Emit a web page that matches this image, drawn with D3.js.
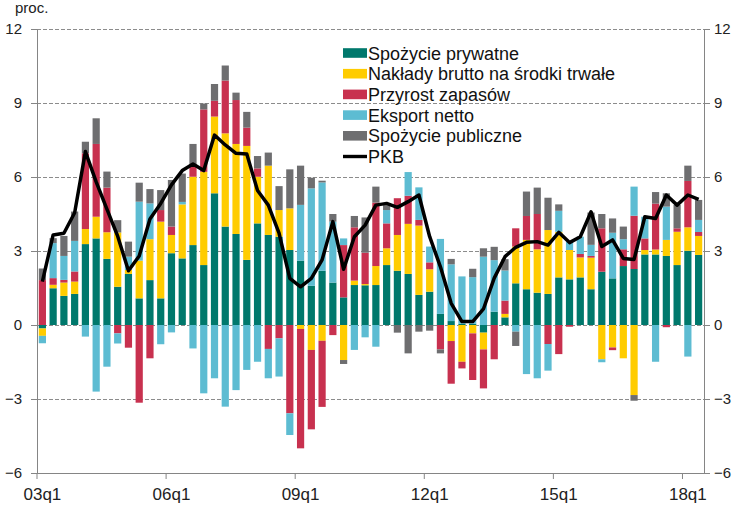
<!DOCTYPE html>
<html><head><meta charset="utf-8">
<script src="https://cdn.jsdelivr.net/npm/d3@7"></script>
<style>body{margin:0;background:#fff}svg{display:block;font-family:"Liberation Sans",Arial,sans-serif}</style>
</head><body><svg id="c" width="743" height="508"></svg>
<script>
const quarters = ["03q1","03q2","03q3","03q4","04q1","04q2","04q3","04q4","05q1","05q2","05q3","05q4",
"06q1","06q2","06q3","06q4","07q1","07q2","07q3","07q4","08q1","08q2","08q3","08q4",
"09q1","09q2","09q3","09q4","10q1","10q2","10q3","10q4","11q1","11q2","11q3","11q4",
"12q1","12q2","12q3","12q4","13q1","13q2","13q3","13q4","14q1","14q2","14q3","14q4",
"15q1","15q2","15q3","15q4","16q1","16q2","16q3","16q4","17q1","17q2","17q3","17q4",
"18q1","18q2"];
const xTickLabels = ["03q1","06q1","09q1","12q1","15q1","18q1"];
const yTicks = [-6,-3,0,3,6,9,12];
const seriesNames = ["Spożycie prywatne","Nakłady brutto na środki trwałe","Przyrost zapasów","Eksport netto","Spożycie publiczne"];
const lineName = "PKB";

const privCons = [-0.14,1.49,1.18,1.26,3.28,3.51,2.68,1.55,2.07,1.08,
 1.82,1.08,2.91,2.70,3.24,2.43,5.34,3.99,3.69,2.64,
 4.12,3.65,3.58,3.04,2.61,1.59,2.20,1.72,1.12,1.62,
 1.61,1.62,2.43,2.20,2.07,1.22,1.35,0.45,0.16,0.05,
 0.05,-0.31,0.54,0.31,1.69,1.45,1.31,1.26,1.93,1.85,
 1.93,1.45,2.16,1.89,2.39,2.27,2.86,2.86,2.80,2.43,
 3.01,2.84];
const investment = [-0.30,0.14,0.54,0.50,0.61,0.88,1.08,2.20,0.16,1.53,
 1.66,3.11,0.74,2.19,2.77,3.78,3.11,3.78,3.65,4.62,
 1.89,2.81,1.08,1.69,-0.16,-1.01,-0.64,0,-1.42,0.18,
 0.05,0.77,0.68,1.45,2.03,2.81,0.91,0,-0.65,-1.49,
 -0.34,-0.68,0,0.14,1.49,2.00,1.76,2.59,1.85,1.19,
 0.81,1.28,-1.39,-0.91,-1.35,-2.84,0.18,0.20,0.65,1.35,
 0.95,0.77];
const inventories = [1.82,0.27,0.11,0.41,3.07,2.95,1.81,-0.34,-0.92,-3.15,
 -1.35,0.47,0.34,0,0.41,2.53,0.64,2.14,1.78,0.74,
 0.34,-0.97,-0.54,-3.58,-4.84,-3.22,-2.68,-0.41,2.12,2.16,
 1.27,2.57,1.01,1.49,1.14,0.23,0.28,-0.99,-1.73,-0.27,
 -1.89,-1.58,-1.39,0.54,0.74,0.97,1.43,-0.77,-1.18,-0.07,
 0.14,0.07,1.76,-0.11,0.68,2.16,0.47,1.86,-0.09,0.14,
 1.88,0.16];
const netExports = [-0.30,1.42,0.97,1.24,-0.47,-2.70,-1.69,-0.41,0.54,2.39,
 1.45,-0.78,-0.30,0.10,-0.95,-2.77,-2.16,-3.31,-2.64,-1.82,
 -1.49,-1.19,-1.55,-0.88,2.26,3.95,3.58,2.47,0.27,-1.01,
 -0.50,-0.88,0.54,0,0.96,1.32,0.64,3.04,2.30,1.92,
 1.89,2.77,2.09,1.22,-0.27,-1.99,-2.16,-1.08,0.85,0.34,
 0.70,0.45,-0.12,1.85,0.41,1.18,0.88,-1.49,1.35,0,
 -1.28,0.49];
const publicCons = [0.47,0.20,0.81,1.19,0.47,1.04,0.65,0.50,0.61,0.77,
 0.58,0.81,1.89,1.15,0.92,0.24,0.68,0.61,0.30,0.64,
 0.50,0.53,0.97,1.58,1.59,0.43,0.07,0.31,-0.16,0.46,
 1.43,0.65,0.20,-0.31,-1.15,-0.27,-0.23,-0.16,0.22,0,
 0.34,0.34,0.54,0.46,-0.58,0.99,1.07,1.31,0.26,0,
 0,1.31,0.58,0.58,0.51,-0.23,0,0.47,0.54,0.95,
 0.62,0.81];
const gdp = [1.76,3.65,3.72,4.55,7.03,5.8,4.7,3.6,2.2,2.8,
 4.3,4.93,5.68,6.26,6.53,6.26,7.7,7.3,6.96,6.93,
 5.45,4.86,3.72,1.89,1.55,1.89,2.64,4.19,2.26,3.58,
 4.05,4.86,4.93,4.77,5.0,5.27,3.58,2.36,0.88,0.14,
 0.14,0.65,1.9,2.77,3.15,3.35,3.38,3.24,3.76,3.34,
 3.58,4.59,3.18,3.45,2.7,2.66,4.39,4.32,5.27,4.86,
 5.27,5.09];

const colors = ["#00786C","#FFCC00","#C8314F","#5DBCD2","#6E6E70"];
const seriesData = [privCons, investment, inventories, netExports, publicCons];

const svg = d3.select("#c");
svg.append("rect").attr("width",743).attr("height",508).attr("fill","#fff");
const L = 37, R = 704, T = 29, B = 473;

const x = d3.scaleBand().domain(quarters).range([L, R]).paddingInner(0.33).paddingOuter(0.165);
const y = d3.scaleLinear().domain([-6, 12]).range([B, T]);

// grid
const grid = svg.append("g").attr("transform", `translate(${L},0)`)
  .call(d3.axisLeft(y).tickValues(yTicks.filter(v => v > -6)).tickSize(-(R - L)).tickFormat(""));
grid.select(".domain").remove();
grid.selectAll("line").attr("stroke","#8c8c8c").attr("stroke-dasharray","4,2").attr("stroke-width",1);

// stacked bars
const rows = quarters.map((q, i) => {
  const o = {q};
  seriesNames.forEach((k, j) => o[k] = seriesData[j][i]);
  return o;
});
const stack = d3.stack().keys(seriesNames).offset(d3.stackOffsetDiverging)(rows);
svg.append("g").selectAll("g").data(stack).join("g")
  .attr("fill", (d, i) => colors[i])
  .selectAll("rect").data(d => d).join("rect")
  .attr("x", d => x(d.data.q))
  .attr("width", x.bandwidth())
  .attr("y", d => y(Math.max(d[0], d[1])))
  .attr("height", d => Math.abs(y(d[0]) - y(d[1])));

// axes
const axisColor = "#858585";
const gl = svg.append("g").attr("transform", `translate(${L},0)`)
  .call(d3.axisLeft(y).tickValues(yTicks).tickSize(6).tickPadding(9).tickSizeOuter(0));
const gr = svg.append("g").attr("transform", `translate(${R},0)`)
  .call(d3.axisRight(y).tickValues(yTicks).tickSize(6).tickPadding(4).tickSizeOuter(0));
const gb = svg.append("g").attr("transform", `translate(0,${B})`)
  .call(d3.axisBottom(x).tickValues(xTickLabels).tickSize(6).tickSizeOuter(0));
gb.selectAll(".tick line").attr("x1", -x.step()/2).attr("x2", -x.step()/2);
gb.select(".domain").attr("d", `M${L},0.5H${R}`);
gb.selectAll(".tick text").attr("y", 27).attr("dy", null).attr("font-size", 17);
[gl, gr].forEach(g => g.selectAll(".tick text").attr("font-size", 15));
[gl, gr, gb].forEach(g => {
  g.selectAll(".domain, .tick line").attr("stroke", axisColor);
  g.selectAll("text").attr("fill", "#222").attr("font-family", '"Liberation Sans",Arial,sans-serif');
});

// GDP line
svg.append("path").datum(gdp)
  .attr("fill","none").attr("stroke","#000").attr("stroke-width",3.5).attr("stroke-linejoin","round")
  .attr("d", d3.line().x((d, i) => x(quarters[i]) + x.bandwidth()/2).y(d => y(d)));

// unit label
svg.append("text").attr("x", 15).attr("y", 13).attr("font-size", 15).attr("fill","#222").text("proc.");

// legend
const lg = svg.append("g").attr("transform","translate(343,53)");
const rowH = 20.7;
seriesNames.forEach((n, i) => {
  lg.append("rect").attr("x",0).attr("y", i*rowH - 4.8).attr("width",24).attr("height",9.6).attr("fill",colors[i]);
  lg.append("text").attr("x",25).attr("y", i*rowH + 6.5).attr("font-size",18).attr("fill","#111").text(n);
});
lg.append("line").attr("x1",0).attr("x2",24).attr("y1",5*rowH).attr("y2",5*rowH).attr("stroke","#000").attr("stroke-width",3.4);
lg.append("text").attr("x",25).attr("y",5*rowH + 6.5).attr("font-size",18).attr("fill","#111").text(lineName);
</script></body></html>
